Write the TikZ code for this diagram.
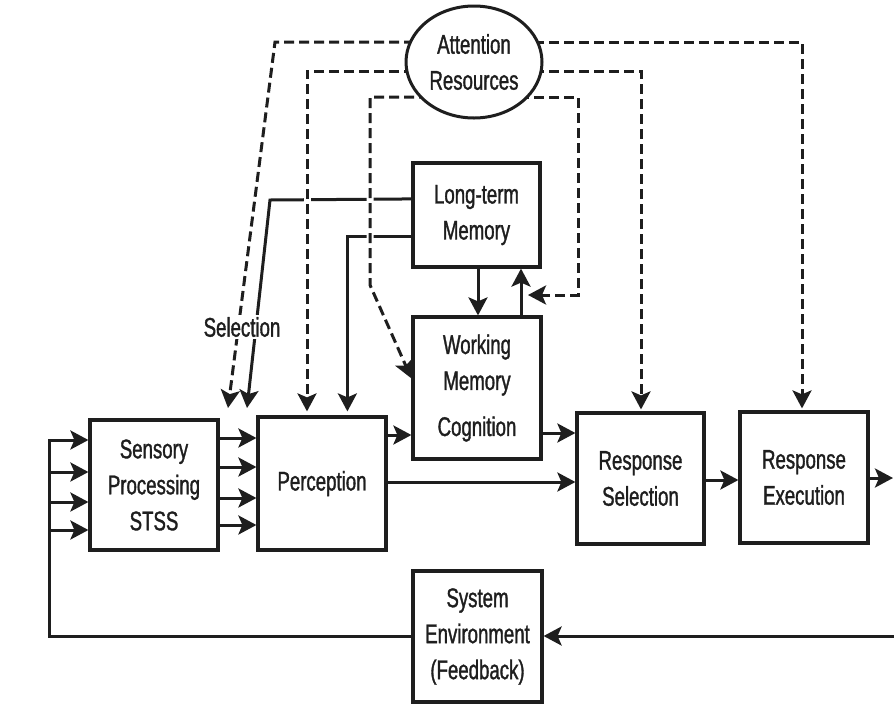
\documentclass[tikz,border=0pt]{standalone}
\usepackage{fontspec}
\setmainfont{Liberation Sans}[FakeStretch=0.69,FakeBold=1.2]
\usetikzlibrary{arrows.meta,backgrounds,calc,shapes.geometric}
\definecolor{ink}{RGB}{30,30,30}
\begin{document}
\begin{tikzpicture}[x=1pt,y=-1pt,
  lbl/.style={font=\fontsize{27}{36}\selectfont, text=ink},
  blk/.style={lbl, draw=ink, line width=3.2pt, fill=white, align=center, inner sep=0pt},
  link/.style={draw=ink, line width=3pt, line join=miter},
  arr/.style={link, -{Stealth[length=18pt,width=19pt,inset=4pt]}},
  attn/.style={link, dash pattern=on 10pt off 5pt,
    preaction={draw=white, line width=7pt, solid, -}},
]
\useasboundingbox (0,0) rectangle (894,713);

% processing stages
\node[lbl, draw=ink, line width=3pt, ellipse, fill=white, align=center, inner sep=0pt,
      minimum width=136pt, minimum height=112pt] (att) at (474,62) {Attention\\Resources};
\node[blk, minimum width=127pt, minimum height=104pt] (ltm) at (476.5,215) {Long-term\\Memory};
\node[blk, minimum width=128pt, minimum height=142pt] (wm)  at (477,388) {Working\\Memory\\[10pt]Cognition};
\node[blk, minimum width=128pt, minimum height=130pt] (sen) at (154,485) {Sensory\\Processing\\STSS};
\node[blk, minimum width=128pt, minimum height=133pt] (per) at (322,483.5) {Perception};
\node[blk, minimum width=127pt, minimum height=131pt] (rs)  at (640.5,478.5) {Response\\Selection};
\node[blk, minimum width=128pt, minimum height=131pt] (re)  at (804,477.5) {Response\\Execution};
\node[blk, minimum width=129pt, minimum height=131pt] (se)  at (477.5,636.5) {System\\Environment\\(Feedback)};
\node[lbl, fill=white, inner sep=2pt] (sel) at (242,327) {Selection};

% free ends of connectors
\coordinate (in1) at (49,440);
\coordinate (in2) at (49,472);
\coordinate (in3) at (49,502);
\coordinate (in4) at (49,530);
\coordinate (selA) at (228,408);
\coordinate (selB) at (247,408);
\coordinate (out) at (893,478);
\coordinate (fin) at (894,636);
\coordinate (ltmA) at ($(ltm.north west)!0.35!(ltm.south west)$);
\coordinate (ltmB) at ($(ltm.north west)!0.70!(ltm.south west)$);
\coordinate (aTop) at ($(att.center)+(0,-20)$);
\coordinate (aMid) at ($(att.center)+(0,9)$);
\coordinate (aLow) at ($(att.center)+(0,35)$);
\coordinate (ret) at (528,295);

\begin{pgfonlayer}{background}
\fill[white] (0,0) rectangle (894,713);

% information flow
\draw[arr] (se.west) -| (in1) -- (in1 -| sen.west);
\draw[arr] (in2) -- (in2 -| sen.west);
\draw[arr] (in3) -- (in3 -| sen.west);
\draw[arr] (in4) -- (in4 -| sen.west);
\foreach \yy in {438,467,498,525}
  \draw[arr] (sen.east |- 0,\yy) -- (per.west |- 0,\yy);
\draw[arr] (per.east |- 0,435) -- (wm.west |- 0,435);
\draw[arr] (per.east |- 0,482) -- (rs.west |- 0,482);
\draw[arr] (wm.east |- 0,433) -- (rs.west |- 0,433);
\draw[arr] (rs.east |- 0,480) -- (re.west |- 0,480);
\draw[arr] (re.east |- 0,478) -- (out);
\draw[arr] (fin) -- (se.east |- fin);
\draw[arr] (ltm.south -| 478,0) -- (wm.north -| 478,0);
\draw[arr] (wm.north -| 521,0) -- (ltm.south -| 521,0);
\draw[arr] (ltmA) -- (270,200) -- (selB);
\draw[arr] (ltmB) -| ($(per.north west)+(91,-4)$);

% attention resources
\draw[attn, arr] (aTop) -- (275,42) -- (selA);
\draw[attn, arr] (aTop) -- (802,42) -- ($(re.north -| 802,0)+(0,-2)$);
\draw[attn, arr] (aMid) -- (307,71) -- ($(per.north -| 307,0)+(0,-4)$);
\draw[attn, arr] (aMid) -- (641,71) -- ($(rs.north -| 641,0)+(0,-2)$);
\draw[attn, arr] (aLow) -- (370,97) -- (370,285) -- ($(wm.north west)+(0,63)$);
\draw[attn, arr] (aLow) -- (578,97) -- (578,295) -- (ret);
\end{pgfonlayer}
\end{tikzpicture}
\end{document}
